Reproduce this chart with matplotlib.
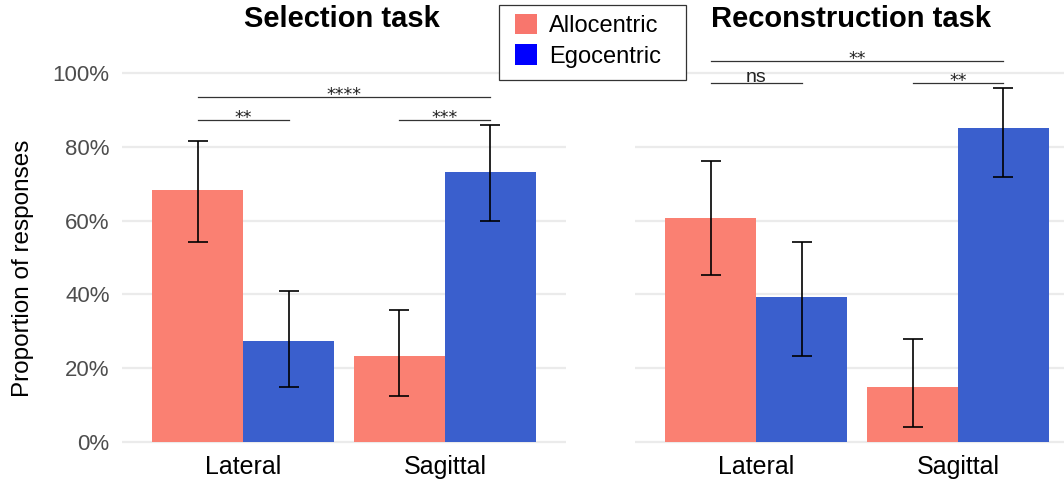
import matplotlib
matplotlib.use('Agg')
import matplotlib.pyplot as plt
import numpy as np
from matplotlib.patches import Patch, Rectangle

plt.rcParams['font.family'] = ['Liberation Sans', 'DejaVu Sans']

categories = ['Lateral', 'Sagittal']
panels = ['Selection task', 'Reconstruction task']

# proportions (%) per panel: [Lateral, Sagittal]
sel_allo = [68.3, 23.3]
sel_ego = [27.4, 73.2]
sel_allo_lo = [54.2, 12.5]
sel_allo_hi = [81.6, 35.8]
sel_ego_lo = [14.9, 59.9]
sel_ego_hi = [40.9, 85.9]

rec_allo = [60.7, 14.9]
rec_ego = [39.3, 85.1]
rec_allo_lo = [45.3, 4.1]
rec_allo_hi = [76.2, 27.9]
rec_ego_lo = [23.3, 71.8]
rec_ego_hi = [54.2, 95.9]

# significance brackets: (from bar index, to bar index, height %, label)
# bar index: 0 Lateral-Allo, 1 Lateral-Ego, 2 Sagittal-Allo, 3 Sagittal-Ego
sel_sig = [(0, 1, 87.3, '**'), (0, 3, 93.5, '****'), (2, 3, 87.3, '***')]
rec_sig = [(0, 1, 97.3, 'ns'), (0, 3, 103.3, '**'), (2, 3, 97.3, '**')]

allo_col = '#FA8072'
ego_col = '#3A5FCD'

fig = plt.figure(figsize=(10.64, 4.84), dpi=100)
# y: 0% at 442 px, 100% at 73 px -> ylim (-1, 112)
ax1 = fig.add_axes([122 / 1064, 0.0791, 444 / 1064, 0.8616])
ax2 = fig.add_axes([635 / 1064, 0.0791, 429 / 1064, 0.8616])

data = [
    (ax1, sel_allo, sel_ego, sel_allo_lo, sel_allo_hi, sel_ego_lo, sel_ego_hi, sel_sig, (0.4, 2.6)),
    (ax2, rec_allo, rec_ego, rec_allo_lo, rec_allo_hi, rec_ego_lo, rec_ego_hi, rec_sig, (0.4, 2.525)),
]

w = 0.45
x = np.arange(1, len(categories) + 1)
for i, (ax, allo, ego, alo, ahi, elo, ehi, sig, xl) in enumerate(data):
    ax.bar(x - w / 2, allo, width=w, color=allo_col, zorder=2)
    ax.bar(x + w / 2, ego, width=w, color=ego_col, zorder=2)
    for xs, v, lo, hi in [(x - w / 2, allo, alo, ahi), (x + w / 2, ego, elo, ehi)]:
        v = np.array(v)
        ax.errorbar(xs, v, yerr=[v - np.array(lo), np.array(hi) - v], fmt='none',
                    ecolor='black', elinewidth=1.2, capsize=7.2, capthick=1.2, zorder=3)
    centers = [1 - w / 2, 1 + w / 2, 2 - w / 2, 2 + w / 2]
    for a, b, h, lab in sig:
        ax.plot([centers[a], centers[b]], [h, h], color='#333333', lw=0.9, zorder=4)
        if lab == 'ns':
            ax.text((centers[a] + centers[b]) / 2, h + 0.2, lab, ha='center', va='baseline',
                    fontsize=14, color='#222222')
        else:
            ax.text((centers[a] + centers[b]) / 2, h - 0.9, lab, ha='center', va='baseline',
                    fontsize=12.5, color='#222222', family='DejaVu Sans')
    ax.set_xlim(*xl)
    ax.set_ylim(-1, 112)
    ax.set_yticks([0, 20, 40, 60, 80, 100])
    ax.yaxis.grid(True, color='#EBEBEB', lw=1.6, zorder=0)
    ax.set_axisbelow(True)
    ax.set_xticks(x)
    ax.set_xticklabels(categories, fontsize=18, color='black')
    ax.tick_params(length=0)
    ax.tick_params(axis='x', pad=7)
    for s in ax.spines.values():
        s.set_visible(False)

fig.text(342 / 1064, 1 - 19 / 484, panels[0], ha='center', va='center',
         fontsize=21, fontweight='bold')
fig.text(851 / 1064, 1 - 19 / 484, panels[1], ha='center', va='center',
         fontsize=21, fontweight='bold')

ax1.set_yticklabels([f'{t}%' for t in [0, 20, 40, 60, 80, 100]], fontsize=16, color='#4D4D4D')
ax1.tick_params(axis='y', pad=9)
ax2.set_yticklabels([])
ax1.set_ylabel('Proportion of responses', fontsize=17.5)
ax1.yaxis.set_label_coords(-0.198, 0.426)

# legend box drawn separately so its padding can follow the reference
fig.patches.append(Rectangle((499 / 1064, 1 - 80 / 484), 187 / 1064, 75 / 484,
                             transform=fig.transFigure, facecolor='white',
                             edgecolor='#333333', lw=0.9, zorder=5))
handles = [Patch(facecolor='#F8766D', label='Allocentric'),
           Patch(facecolor='#0000FF', label='Egocentric')]
leg = fig.legend(handles=handles, loc='upper left', bbox_to_anchor=(515 / 1064, 1 - 14 / 484),
                 fontsize=17, frameon=False, handlelength=0.95, handleheight=0.95,
                 handletextpad=0.5, borderpad=0, labelspacing=0.3, borderaxespad=0)
leg.set_zorder(6)

fig.savefig('out.png', dpi=100)
